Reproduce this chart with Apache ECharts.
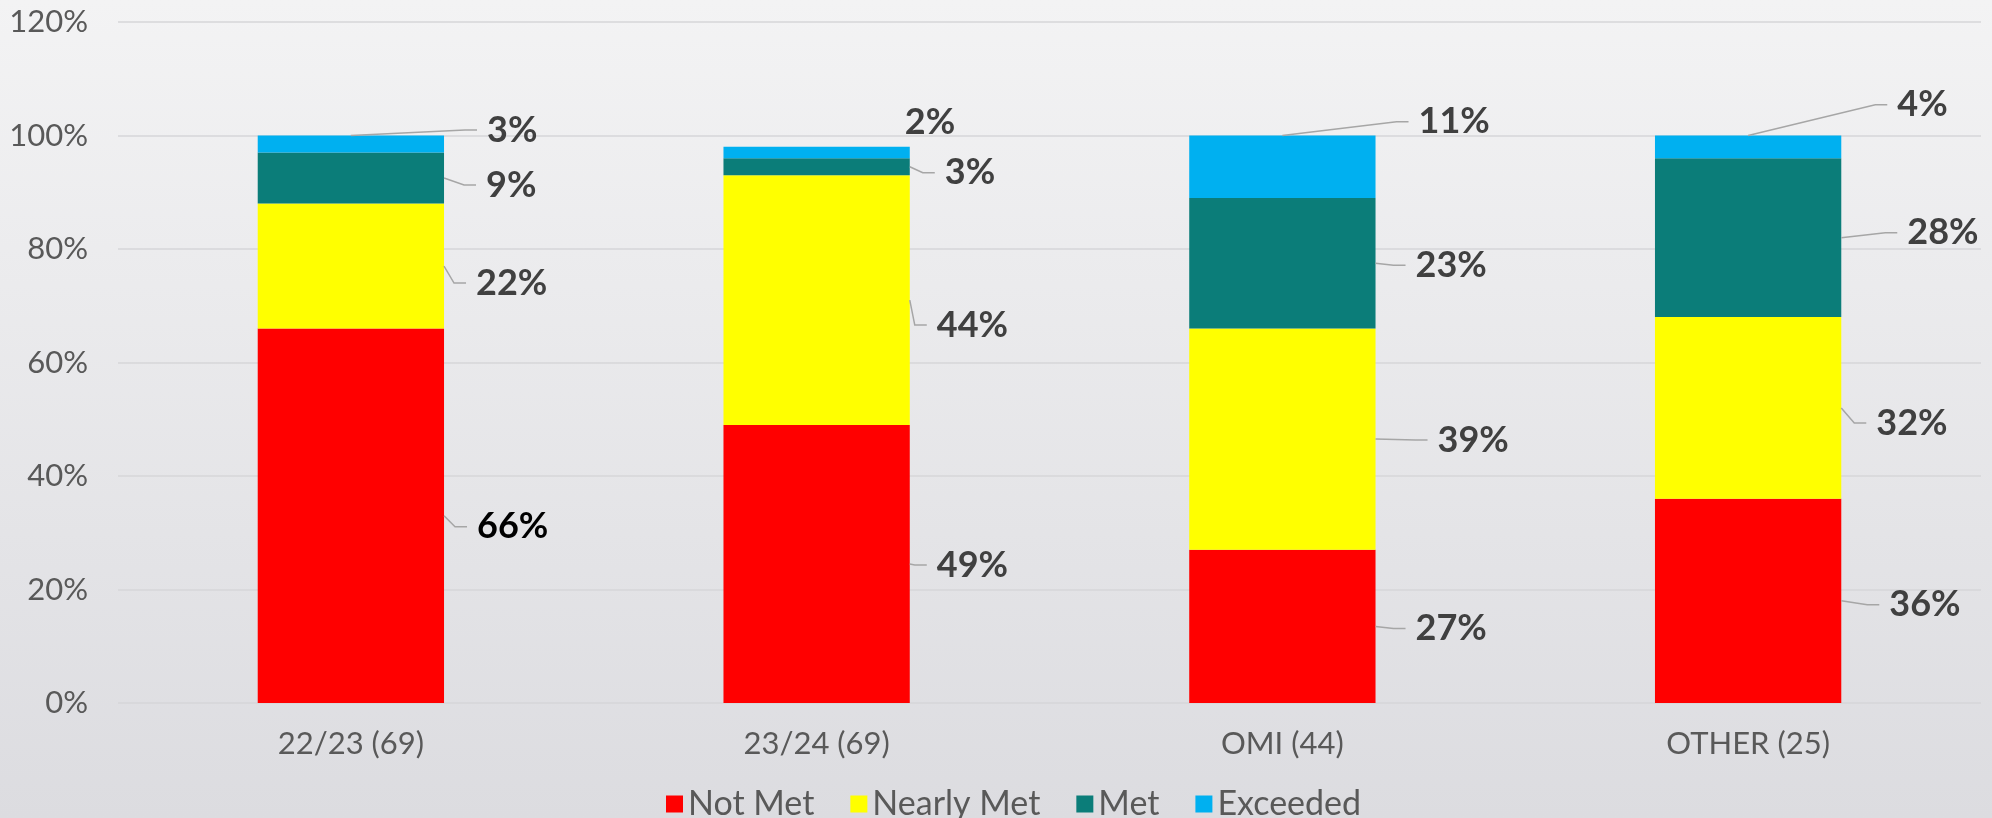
<!DOCTYPE html>
<html>
<head>
<meta charset="utf-8">
<script src="https://cdn.jsdelivr.net/npm/echarts@6/dist/echarts.min.js"></script>
<style>
html,body{margin:0;padding:0;}
#chart{width:1992px;height:818px;}
</style>
</head>
<body>
<div id="chart"></div>
<script>
// ---- data ----
const categories = ['22/23 (69)', '23/24 (69)', 'OMI (44)', 'OTHER (25)'];
const seriesNames = ['Not Met', 'Nearly Met', 'Met', 'Exceeded'];
const notMet    = [66, 49, 27, 36];
const nearlyMet = [22, 44, 39, 32];
const met       = [9, 3, 23, 28];
const exceeded  = [3, 2, 11, 4];

// ---- styles / layout ----
const colors = ['#FF0000', '#FFFF00', '#0B7D79', '#00B0F0'];
// label placement: [px from bar right edge to text left, px from segment middle to text middle]
const labelOffsets = [
  [[33, 11], [27, 1], [40, 2], [48, 4]],
  [[32, 17], [27, 25], [62, 1], [35, 15]],
  [[42, 7], [35, 6], [40, 2], [66, -5]],
  [[43, -14], [-5, -30], [43, -45], [56, -42]]
];
const hiddenLines = ['3-1'];
const darkLabels = ['0-0'];

const values = [notMet, nearlyMet, met, exceeded];
const labelData = [];
for (let c = 0; c < categories.length; c++) {
  let cum = 0;
  for (let s = 0; s < values.length; s++) {
    const v = values[s][c];
    labelData.push([c, cum, cum + v, v, s]);
    cum += v;
  }
}

const FONT = 'Lato, "Open Sans", sans-serif';
const chart = echarts.init(document.getElementById('chart'));

const barSeries = seriesNames.map((n, s) => ({
  name: n,
  type: 'bar',
  stack: 'total',
  data: values[s],
  barWidth: '40%',
  itemStyle: { color: colors[s] },
  emphasis: { disabled: true }
}));

chart.setOption({
  animation: false,
  backgroundColor: {
    type: 'linear', x: 0, y: 0, x2: 0, y2: 1,
    colorStops: [{ offset: 0, color: '#f3f3f4' }, { offset: 1, color: '#dcdce0' }]
  },
  grid: { left: 118, right: 11, top: 22, bottom: 115, containLabel: false },
  legend: {
    data: seriesNames,
    left: 661,
    top: 782,
    itemWidth: 17,
    itemHeight: 17,
    itemGap: 36,
    icon: 'rect',
    textStyle: { fontFamily: FONT, fontSize: 34, color: '#595959', padding: [0, 0, 0, 0] }
  },
  xAxis: {
    type: 'category',
    data: categories,
    axisLine: { show: false },
    axisTick: { show: false },
    axisLabel: { fontFamily: FONT, fontSize: 31, color: '#595959', margin: 25 }
  },
  yAxis: {
    type: 'value',
    min: 0, max: 120, interval: 20,
    axisLabel: { formatter: '{value}%', fontFamily: FONT, fontSize: 31, color: '#595959', margin: 30 },
    splitLine: { lineStyle: { color: '#d6d6d8', width: 1.5 } },
    axisLine: { show: false },
    axisTick: { show: false }
  },
  series: barSeries.concat([{
    type: 'custom',
    silent: true,
    clip: false,
    z: 5,
    data: labelData,
    renderItem: function (params, api) {
      const c = api.value(0), lo = api.value(1), hi = api.value(2), v = api.value(3), s = api.value(4);
      const top = api.coord([c, hi]);
      const mid = api.coord([c, (lo + hi) / 2]);
      const band = api.size([1, 0])[0];
      const right = top[0] + band * 0.2;
      const off = labelOffsets[s][c];
      const textLeft = right + off[0];
      const textY = mid[1] + off[1];
      const lineEnd = [textLeft - 10, textY];
      const elbow = [textLeft - 22, textY];
      const start = (s === values.length - 1) ? [top[0], top[1]] : [right, mid[1]];
      const key = s + '-' + c;
      const children = [];
      if (hiddenLines.indexOf(key) < 0) {
        children.push({
          type: 'polyline',
          shape: { points: [start, elbow, lineEnd] },
          style: { stroke: '#a6a6a6', lineWidth: 1.5, fill: null }
        });
      }
      children.push({
        type: 'text',
        style: {
          text: v + '%',
          x: textLeft, y: textY,
          align: 'left', verticalAlign: 'middle',
          fontFamily: FONT, fontSize: 36, fontWeight: 'bold',
          fill: darkLabels.indexOf(key) >= 0 ? '#000000' : '#404040'
        }
      });
      return { type: 'group', children: children };
    }
  }])
});
</script>
</body>
</html>
